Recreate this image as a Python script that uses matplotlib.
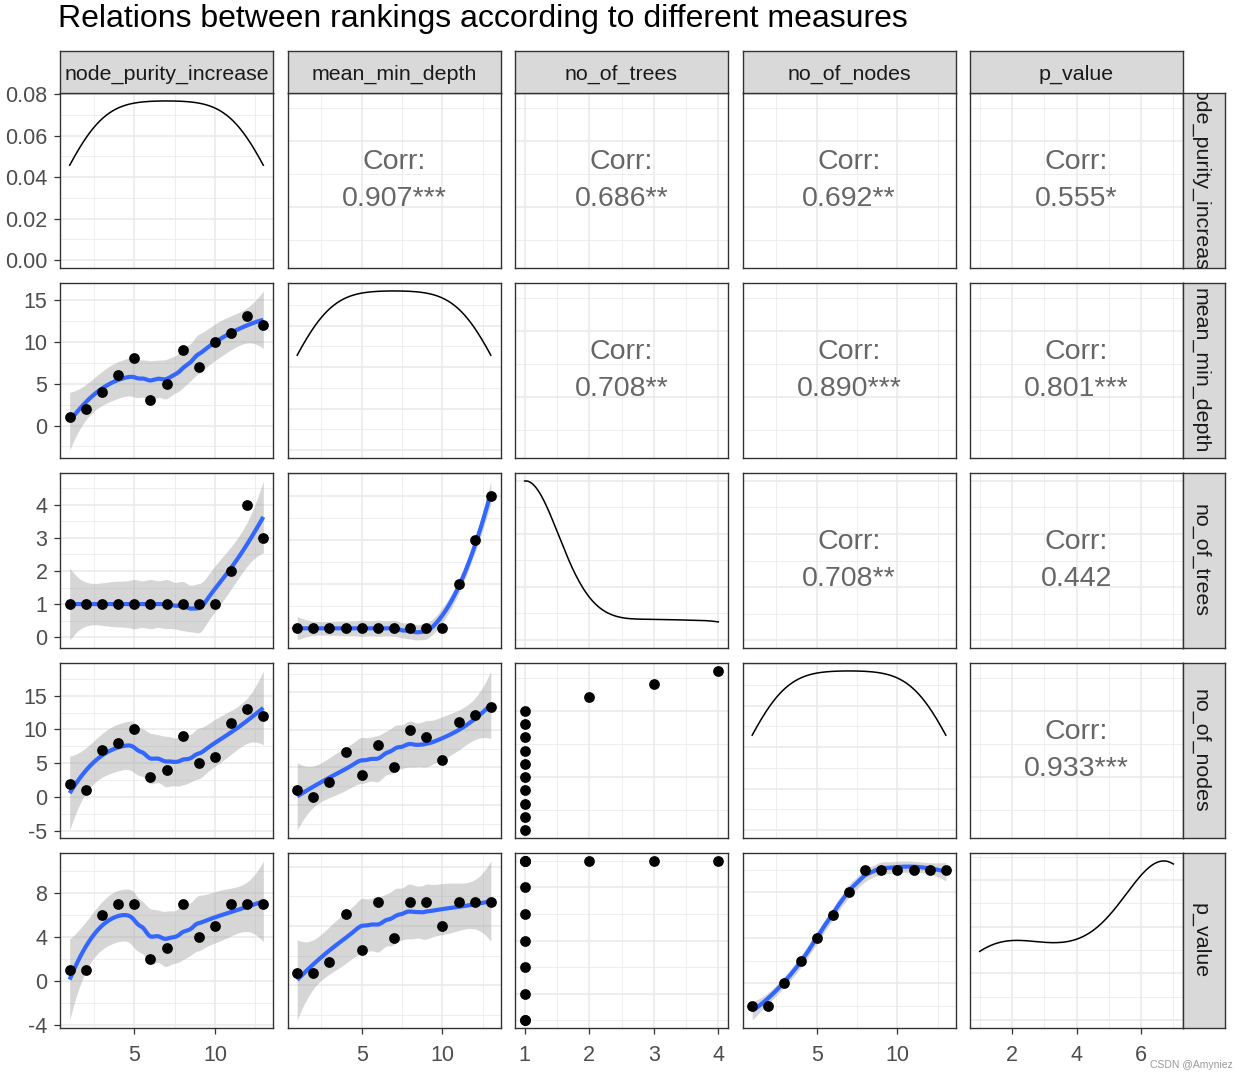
import numpy as np
import matplotlib
matplotlib.use("Agg")
import matplotlib.pyplot as plt
from matplotlib.ticker import MaxNLocator, FixedLocator

plt.rcParams['font.family'] = ['Liberation Sans', 'DejaVu Sans']
plt.rcParams['axes.unicode_minus'] = False

# ranks of the 13 variables under each importance measure
variables = ["node_purity_increase", "mean_min_depth", "no_of_trees", "no_of_nodes", "p_value"]
node_purity_increase = [1, 2, 3, 4, 5, 6, 7, 8, 9, 10, 11, 12, 13]
mean_min_depth = [1, 2, 4, 6, 8, 3, 5, 9, 7, 10, 11, 13, 12]
no_of_trees = [1, 1, 1, 1, 1, 1, 1, 1, 1, 1, 2, 4, 3]
no_of_nodes = [2, 1, 7, 8, 10, 3, 4, 9, 5, 6, 11, 13, 12]
p_value = [1, 1, 6, 7, 7, 2, 3, 7, 4, 5, 7, 7, 7]

corr_labels = {
    (0, 1): "0.907***", (0, 2): "0.686**", (0, 3): "0.692**", (0, 4): "0.555*",
    (1, 2): "0.708**", (1, 3): "0.890***", (1, 4): "0.801***",
    (2, 3): "0.708**", (2, 4): "0.442",
    (3, 4): "0.933***",
}

# labelled ticks on the outer axes
x_ticks = [[5, 10], [5, 10], [1, 2, 3, 4], [5, 10], [2, 4, 6]]
y_ticks = [[0.00, 0.02, 0.04, 0.06, 0.08], [0, 5, 10, 15], [0, 1, 2, 3, 4],
           [-5, 0, 5, 10, 15], [-4, 0, 4, 8]]
y_tick_labels = [["0.00", "0.02", "0.04", "0.06", "0.08"], None, None, None, None]

title = "Relations between rankings according to different measures"

data = [np.array(v, dtype=float) for v in
        (node_purity_increase, mean_min_depth, no_of_trees, no_of_nodes, p_value)]

W, H = 1239, 1073
LEFT0, PW, XSTEP = 60, 213, 227.5
TOP0, PH, YSTEP = 93, 175, 190
STRIP = 42
GRID = "#EBEBEB"
DARK = "#333333"


def t_quantile(df, z=1.959964):
    g1 = (z ** 3 + z) / 4
    g2 = (5 * z ** 5 + 16 * z ** 3 + 3 * z) / 96
    g3 = (3 * z ** 7 + 19 * z ** 5 + 17 * z ** 3 - 15 * z) / 384
    return z + g1 / df + g2 / df ** 2 + g3 / df ** 3


def loess(x, y, xs, span=0.75):
    n = len(x)
    q = int(np.floor(n * span))

    def row(x0):
        d = np.abs(x - x0)
        h = np.sort(d)[q - 1] * 1.000001
        w = np.clip(1 - (d / h) ** 3, 0, None) ** 3
        X = np.column_stack([np.ones(n), x - x0, (x - x0) ** 2])
        A = X.T @ (w[:, None] * X)
        return np.linalg.solve(A, (X * w[:, None]).T)[0]

    L = np.array([row(v) for v in x])
    res = y - L @ y
    M = (np.eye(n) - L).T @ (np.eye(n) - L)
    d1 = np.trace(M)
    d2 = np.trace(M @ M)
    sigma = np.sqrt(np.sum(res ** 2) / d1)
    Ls = np.array([row(v) for v in xs])
    fit = Ls @ y
    se = sigma * np.sqrt(np.sum(Ls ** 2, axis=1))
    t = t_quantile(d1 ** 2 / d2)
    return fit, fit - t * se, fit + t * se


def kde(x, xs):
    n = len(x)
    hi = np.std(x, ddof=1)
    q75, q25 = np.percentile(x, [75, 25])
    lo = min(hi, (q75 - q25) / 1.34)
    if lo == 0:
        lo = hi
    bw = 0.9 * lo * n ** -0.2
    u = (xs[:, None] - x[None, :]) / bw
    return np.exp(-0.5 * u ** 2).sum(axis=1) / (n * bw * np.sqrt(2 * np.pi))


def minor_from(major, lo, hi):
    major = np.asarray(major, dtype=float)
    step = major[1] - major[0]
    m = np.arange(major[0] - step / 2, major[-1] + step, step)
    return m[(m >= lo) & (m <= hi)]


def pad(lo, hi, f=0.05):
    r = hi - lo
    return lo - f * r, hi + f * r


fig = plt.figure(figsize=(W / 100, H / 100), dpi=100)
fig.text(58 / W, 1 - 19 / H, title, fontsize=23, ha="left", va="center", color="black")

for i in range(5):
    for j in range(5):
        left = LEFT0 + j * XSTEP
        top = TOP0 + i * YSTEP
        ax = fig.add_axes([left / W, 1 - (top + PH) / H, PW / W, PH / H])
        x = data[j]
        y = data[i]
        ax.set_axisbelow(True)

        if i == j:
            xs = np.linspace(x.min(), x.max(), 300)
            dens = kde(x, xs)
            ax.plot(xs, dens, color="black", lw=1.1)
            ax.set_xlim(*pad(x.min(), x.max()))
            ax.set_ylim(*pad(0, dens.max()))
        elif i > j:
            if len(np.unique(x)) >= 5:
                xs = np.linspace(x.min(), x.max(), 120)
                fit, lo, hi = loess(x, y, xs)
                ax.fill_between(xs, lo, hi, color="#999999", alpha=0.4, lw=0)
                ax.plot(xs, fit, color="#3366FF", lw=3, solid_capstyle="butt")
            ax.scatter(x, y, s=60, color="black", lw=0, zorder=3)
            ax.margins(0.05)
        else:
            ax.set_xlim(*pad(x.min(), x.max()))
            ax.set_ylim(*pad(y.min(), y.max()))
            ax.text(0.5, 0.5, "Corr:\n" + corr_labels[(i, j)], transform=ax.transAxes,
                    ha="center", va="center", fontsize=20.5, color="#666666",
                    linespacing=1.55)

        xlo, xhi = ax.get_xlim()
        ylo, yhi = ax.get_ylim()
        if i == 4:
            xmaj = x_ticks[j]
        else:
            xmaj = MaxNLocator(nbins=5, steps=[1, 2, 2.5, 5, 10]).tick_values(xlo, xhi)
            xmaj = [v for v in xmaj if xlo <= v <= xhi]
        if j == 0:
            ymaj = y_ticks[i]
        else:
            ymaj = MaxNLocator(nbins=5, steps=[1, 2, 2.5, 5, 10]).tick_values(ylo, yhi)
            ymaj = [v for v in ymaj if ylo <= v <= yhi]
        ax.xaxis.set_major_locator(FixedLocator(xmaj))
        ax.yaxis.set_major_locator(FixedLocator(ymaj))
        ax.xaxis.set_minor_locator(FixedLocator(minor_from(xmaj, xlo, xhi)))
        ax.yaxis.set_minor_locator(FixedLocator(minor_from(ymaj, ylo, yhi)))
        ax.set_xlim(xlo, xhi)
        ax.set_ylim(ylo, yhi)
        ax.grid(which="major", color=GRID, lw=1.2)
        ax.grid(which="minor", color=GRID, lw=0.6)
        ax.tick_params(which="minor", length=0)
        ax.tick_params(which="major", length=4, width=0.9, color=DARK,
                       labelcolor="#4D4D4D", labelsize=15.5, pad=5)
        ax.tick_params(axis="x", which="major", pad=8)
        if i != 4:
            ax.tick_params(axis="x", which="major", length=0, labelbottom=False)
        if j != 0:
            ax.tick_params(axis="y", which="major", length=0, labelleft=False)
        elif y_tick_labels[i] is not None:
            ax.set_yticklabels(y_tick_labels[i])
        for sp in ax.spines.values():
            sp.set_color(DARK)
            sp.set_linewidth(1.0)

        # column strips on top
        if i == 0:
            sax = fig.add_axes([left / W, 1 - top / H, PW / W, STRIP / H])
            sax.set_facecolor("#D9D9D9")
            sax.set_xticks([])
            sax.set_yticks([])
            for sp in sax.spines.values():
                sp.set_color(DARK)
                sp.set_linewidth(1.0)
            sax.text(0.5, 0.45, variables[j], transform=sax.transAxes, ha="center",
                     va="center", fontsize=15.4, color="#1A1A1A", clip_on=True)
        # row strips on the right
        if j == 4:
            rax = fig.add_axes([(left + PW) / W, 1 - (top + PH) / H, STRIP / W, PH / H])
            rax.set_facecolor("#D9D9D9")
            rax.set_xticks([])
            rax.set_yticks([])
            for sp in rax.spines.values():
                sp.set_color(DARK)
                sp.set_linewidth(1.0)
            rax.text(0.4, 0.5, variables[i], transform=rax.transAxes, ha="center",
                     va="center", fontsize=15.4, color="#1A1A1A", rotation=-90,
                     clip_on=True)

fig.text(1150 / W, 1 - 1065 / H, "CSDN @Amyniez", fontsize=7.5, color="#999999",
         ha="left", va="center")

fig.savefig("out.png", dpi=100, facecolor="white")
